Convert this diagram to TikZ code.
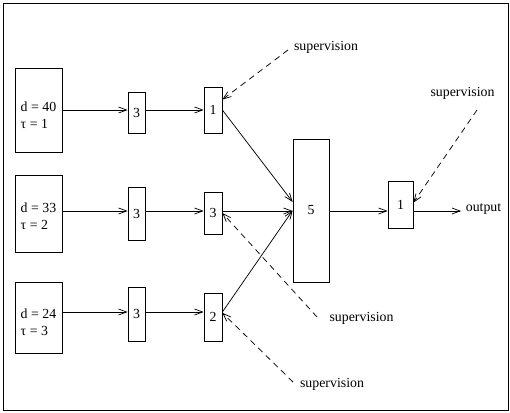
\documentclass[tikz,border=0pt]{standalone}
\usepackage{fontspec}
\setmainfont{Liberation Serif}
\usetikzlibrary{arrows.meta}
\begin{document}
\begin{tikzpicture}[x=0.75pt,y=-0.75pt,line width=0.55pt,
  font=\fontsize{10.4}{12.75}\selectfont,
  blk/.style 2 args={draw,inner sep=0pt,minimum width=#1*0.75pt,minimum height=#2*0.75pt},
  inlbl/.style={align=left,inner sep=0pt},
  arr/.style={-{Straight Barb[length=6pt,width=4.5pt]}},
  sup/.style={arr,dash pattern=on 4.5pt off 3.5pt}]
\useasboundingbox (0,0) rectangle (510,413);
\draw[line width=0.7pt] (3,3) rectangle (508,410);

% row levels
\coordinate (r1) at (0,110);
\coordinate (r2) at (0,211);
\coordinate (r3) at (0,312);

% delay inputs
\node[blk={47}{84},label={[inlbl,yshift=-3.75pt]center:d = 40\\τ = 1}] (in1) at (38.5,110) {};
\node[blk={47}{77},label={[inlbl,yshift=-2.25pt]center:d = 33\\τ = 2}] (in2) at (38.5,213.5) {};
\node[blk={47}{71},label={[inlbl,yshift=-3.75pt]center:d = 24\\τ = 3}] (in3) at (38.5,317.5) {};

% first and second layers
\node[blk={17}{41}] (a1) at (136.5,112.5) {3};
\node[blk={17}{53}] (a2) at (136.5,213.5) {3};
\node[blk={17}{54}] (a3) at (136.5,314) {3};
\node[blk={18}{46}] (b1) at (213,110) {1};
\node[blk={18}{42}] (b2) at (213,213) {3};
\node[blk={18}{48}] (b3) at (213,317) {2};

\node[blk={36}{143}] (c5) at (311,210.5) {5};
\node[blk={25}{47}] (o1) at (400.5,204.5) {1};
\node[anchor=west] (out) at (461,209) {output};

\draw[arr] (in1.east |- r1) -- (a1.west |- r1);
\draw[arr] (a1.east |- r1) -- (b1.west |- r1);
\draw[arr] (in2.east |- r2) -- (a2.west |- r2);
\draw[arr] (a2.east |- r2) -- (b2.west |- r2);
\draw[arr] (in3.east |- r3) -- (a3.west |- r3);
\draw[arr] (a3.east |- r3) -- (b3.west |- r3);

\draw[arr] (b1.east) -- (c5.155);
\draw[arr] (b2.east |- r2) -- (c5.west |- r2);
\draw[arr] (b3.east |- r3) -- (c5.west);
\draw[arr] (c5.east |- r2) -- (o1.west |- r2);
\draw[arr] (o1.east |- r2) -- (out.west |- r2);

% supervision signals
\node (s1) at (326,47) {supervision};
\node (s2) at (462.5,93) {supervision};
\node (s3) at (361.5,318) {supervision};
\node (s4) at (332,384) {supervision};
\coordinate (t1) at (288,50);
\coordinate (t2) at (477,110);
\coordinate (t3) at (317,317);
\coordinate (t4) at (293,382);

\draw[sup] (t1) -- (b1.48);
\draw[sup] (t2) -- (o1.8);
\draw[sup] (t3) -- (b2.east);
\draw[sup] (t4) -- (b3.24);
\end{tikzpicture}
\end{document}
